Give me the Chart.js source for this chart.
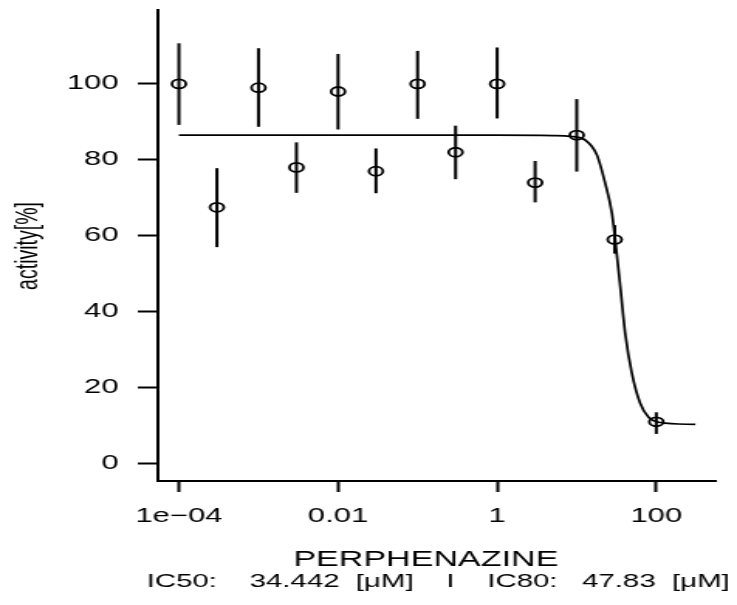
<!DOCTYPE html>
<html>
<head>
<meta charset="utf-8">
<script src="https://cdn.jsdelivr.net/npm/chart.js@4.4.1/dist/chart.umd.min.js"></script>
<style>
  html, body { margin: 0; padding: 0; background: #fff; overflow: hidden; }
</style>
</head>
<body>
<!-- drawn narrow, then stretched sideways like the original picture -->
<canvas id="doseChart" width="476" height="605" style="display:block;width:737px;height:605px"></canvas>
<script>
// =============================
// DATA
// =============================
const doses = [1e-4, 3e-4, 1e-3, 3e-3, 0.01, 0.03, 0.1, 0.3, 1, 3, 10, 30, 100];
const activity = [100, 67.5, 99, 78, 98, 77, 100, 82, 100, 74, 86.5, 59, 11];
const errHigh = [110.7, 77.8, 109.4, 84.6, 107.9, 83.0, 108.7, 89.0, 109.6, 79.7, 96.0, 62.8, 13.5];
const errLow = [89.2, 57.0, 88.7, 71.3, 88.0, 71.2, 90.8, 74.9, 90.9, 68.8, 76.9, 55.3, 7.8];

// fitted curve
const curveX = [1e-4, 1, 5, 8.3, 12.8, 17.9, 22.8, 27.7, 30.5, 35.3, 40.7, 49.4, 62.9, 80, 112, 310];
const curveY = [86.5, 86.5, 86.4, 86.2, 85.2, 81.3, 73.8, 65.9, 58.8, 46.5, 34.2, 23.7, 15.8, 12.2, 10.8, 10.3];

const xTickValues = [1e-4, 0.01, 1, 100];
const xTickLabels = ["1e\u221204", "0.01", "1", "100"];
const yTickValues = [0, 20, 40, 60, 80, 100];

const xTitle = "PERPHENAZINE";
const yTitle = "activity[%]";
const icText = "IC50:    34.442  [\u03bcM]    I    IC80:   47.83  [\u03bcM]";

const FONT = '"Liberation Sans", Arial, Helvetica, sans-serif';

// =============================
// Error bars + texts
// =============================
const errorBars = {
  id: "errorBars",
  afterDatasetsDraw(chart) {
    const { ctx, scales: { x, y } } = chart;
    ctx.save();
    ctx.strokeStyle = "#000";
    ctx.lineWidth = 2;
    doses.forEach((d, i) => {
      const px = x.getPixelForValue(d);
      ctx.beginPath();
      ctx.moveTo(px, y.getPixelForValue(errLow[i]));
      ctx.lineTo(px, y.getPixelForValue(errHigh[i]));
      ctx.stroke();
    });
    ctx.restore();
  }
};

const texts = {
  id: "texts",
  afterDraw(chart) {
    const ctx = chart.ctx;
    ctx.save();
    ctx.fillStyle = "#000";
    ctx.textAlign = "center";
    ctx.textBaseline = "alphabetic";

    ctx.font = "22px " + FONT;
    ctx.fillText(xTitle, 275, 566);

    ctx.font = "19px " + FONT;
    ctx.fillText(icText, 283, 587);

    ctx.translate(23.5, 246);
    ctx.rotate(-Math.PI / 2);
    ctx.font = "19.5px " + FONT;
    ctx.fillText(yTitle, 0, 0);
    ctx.restore();
  }
};

// =============================
// CHART
// =============================
const ctx = document.getElementById("doseChart").getContext("2d");

new Chart(ctx, {
  type: "scatter",
  data: {
    datasets: [
      {
        label: "fit",
        data: curveX.map((v, i) => ({ x: v, y: curveY[i] })),
        showLine: true,
        borderColor: "#000",
        borderWidth: 1.7,
        pointRadius: 0,
        cubicInterpolationMode: "monotone",
        fill: false
      },
      {
        label: "activity",
        data: doses.map((v, i) => ({ x: v, y: activity[i] })),
        pointStyle: "circle",
        pointRadius: 4.5,
        pointBorderWidth: 1.8,
        pointBorderColor: "#000",
        pointBackgroundColor: "rgba(0,0,0,0)"
      }
    ]
  },
  options: {
    responsive: false,
    animation: false,
    devicePixelRatio: 1,
    layout: { padding: { top: 9.5, right: 14, left: 0, bottom: 0 } },
    plugins: {
      legend: { display: false },
      tooltip: { enabled: false }
    },
    scales: {
      x: {
        type: "logarithmic",
        min: 5.45e-5,
        max: 552,
        afterBuildTicks: s => { s.ticks = xTickValues.map(v => ({ value: v })); },
        afterFit: s => { s.height = 124; s.paddingLeft = 0; s.paddingRight = 0; },
        grid: { drawOnChartArea: false, drawTicks: true, tickLength: 11, tickWidth: 2, tickColor: "#000" },
        border: { display: true, color: "#000", width: 2 },
        ticks: {
          color: "#000",
          font: { family: FONT, size: 20 },
          padding: 12,
          maxRotation: 0,
          autoSkip: false,
          callback: v => {
            const i = xTickValues.findIndex(t => Math.abs(Math.log10(t) - Math.log10(v)) < 1e-6);
            return i >= 0 ? xTickLabels[i] : "";
          }
        }
      },
      y: {
        type: "linear",
        min: -4.6,
        max: 119.6,
        afterBuildTicks: s => { s.ticks = yTickValues.map(v => ({ value: v })); },
        afterFit: s => { s.width = 102; s.paddingTop = 0; s.paddingBottom = 0; },
        grid: { drawOnChartArea: false, drawTicks: true, tickLength: 13, tickWidth: 2, tickColor: "#000" },
        border: { display: true, color: "#000", width: 2 },
        ticks: {
          color: "#000",
          font: { family: FONT, size: 20 },
          padding: 12.5,
          callback: v => String(v)
        }
      }
    }
  },
  plugins: [errorBars, texts]
});
</script>
</body>
</html>
